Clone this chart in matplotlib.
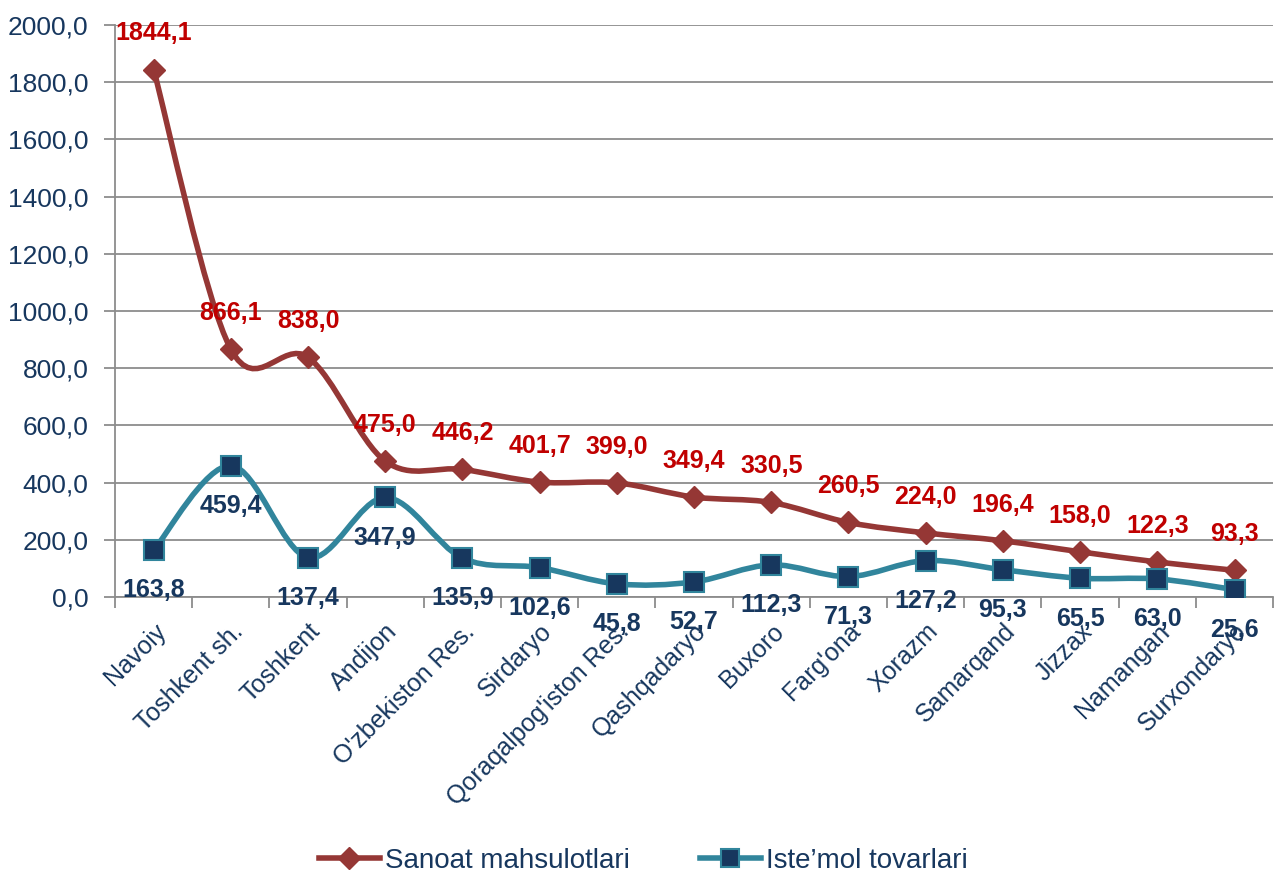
import numpy as np
import matplotlib
matplotlib.use("Agg")
import matplotlib.pyplot as plt
from matplotlib.path import Path
from matplotlib.patches import PathPatch
from matplotlib.lines import Line2D

plt.rcParams['font.family'] = ['Liberation Sans', 'DejaVu Sans']

# data
regions = ["Navoiy", "Toshkent sh.", "Toshkent", "Andijon", "O'zbekiston Res.",
           "Sirdaryo", "Qoraqalpog'iston Res.", "Qashqadaryo", "Buxoro", "Farg'ona",
           "Xorazm", "Samarqand", "Jizzax", "Namangan", "Surxondaryo"]
sanoat = [1844.1, 866.1, 838.0, 475.0, 446.2, 401.7, 399.0, 349.4, 330.5,
          260.5, 224.0, 196.4, 158.0, 122.3, 93.3]
istemol = [163.8, 459.4, 137.4, 347.9, 135.9, 102.6, 45.8, 52.7, 112.3,
           71.3, 127.2, 95.3, 65.5, 63.0, 25.6]

red = "#953735"
teal = "#31859C"
navy = "#17375E"
label_red = "#C00000"


def smooth_path(x, y):
    # Catmull-Rom style bezier like the spreadsheet "smoothed line"
    x = np.asarray(x, float)
    y = np.asarray(y, float)
    n = len(x)
    verts = [(x[0], y[0])]
    codes = [Path.MOVETO]
    for i in range(n - 1):
        p0 = (x[i - 1], y[i - 1]) if i > 0 else (x[i], y[i])
        p1 = (x[i], y[i])
        p2 = (x[i + 1], y[i + 1])
        p3 = (x[i + 2], y[i + 2]) if i + 2 < n else (x[i + 1], y[i + 1])
        c1 = (p1[0] + (p2[0] - p0[0]) / 6, p1[1] + (p2[1] - p0[1]) / 6)
        c2 = (p2[0] - (p3[0] - p1[0]) / 6, p2[1] - (p3[1] - p1[1]) / 6)
        verts += [c1, c2, p2]
        codes += [Path.CURVE4] * 3
    return Path(verts, codes)


fig = plt.figure(figsize=(12.74, 8.72), dpi=100)
ax = fig.add_axes([0.0903, 0.3154, 0.909, 0.6559])

xs = np.arange(len(regions))
ax.add_patch(PathPatch(smooth_path(xs, sanoat), fill=False, edgecolor=red, lw=4, zorder=3))
ax.add_patch(PathPatch(smooth_path(xs, istemol), fill=False, edgecolor=teal, lw=4, zorder=3))
ax.plot(xs, sanoat, ls="none", marker="D", ms=11, color=red, zorder=4)
ax.plot(xs, istemol, ls="none", marker="s", ms=15, mfc=navy, mec=teal, mew=1.5, zorder=4)

for x, v in zip(xs, sanoat):
    ax.annotate(f"{v:.1f}".replace(".", ","), (x, v), xytext=(0, 26), textcoords="offset points",
                ha="center", va="center", color=label_red, fontsize=18, fontweight="bold", zorder=5)
for x, v in zip(xs, istemol):
    ax.annotate(f"{v:.1f}".replace(".", ","), (x, v), xytext=(0, -29), textcoords="offset points",
                ha="center", va="center", color=navy, fontsize=18, fontweight="bold", zorder=5)

ax.set_xlim(-0.5, len(regions) - 0.5)
ax.set_ylim(0, 2000)
ax.set_yticks(np.arange(0, 2001, 200))
ax.set_yticklabels([f"{t:.1f}".replace(".", ",") for t in np.arange(0, 2001, 200)])
ax.yaxis.grid(True, color="#8C8C8C", lw=1.3)
ax.set_axisbelow(True)

ax.set_xticks(xs)
ax.set_xticklabels(regions, rotation=45, ha="right", rotation_mode="anchor")
ax.set_xticks(np.arange(-0.5, len(regions), 1), minor=True)
ax.tick_params(axis="x", which="major", length=0, pad=16, labelsize=18, labelcolor=navy)
ax.tick_params(axis="x", which="minor", length=8, color="#8C8C8C", width=1.3)
ax.tick_params(axis="y", length=8, color="#8C8C8C", width=1.3, labelsize=19, labelcolor=navy, pad=11)

for s in ["top", "right"]:
    ax.spines[s].set_visible(False)
ax.spines["left"].set_color("#8C8C8C")
ax.spines["left"].set_linewidth(1.3)
ax.spines["bottom"].set_color("#8C8C8C")
ax.spines["bottom"].set_linewidth(1.3)

handles = [Line2D([], [], color=red, lw=4, marker="D", ms=11),
           Line2D([], [], color=teal, lw=4, marker="s", ms=13, mfc=navy, mec=teal, mew=1.5)]
fig.legend(handles, ["Sanoat mahsulotlari", "Iste\u2019mol tovarlari"], loc="center",
           bbox_to_anchor=(0.505, 0.013), ncol=2, frameon=False, fontsize=20,
           labelcolor=navy, handlelength=2.2, columnspacing=2.5, handletextpad=0.2)

fig.savefig("out.png", dpi=100)
